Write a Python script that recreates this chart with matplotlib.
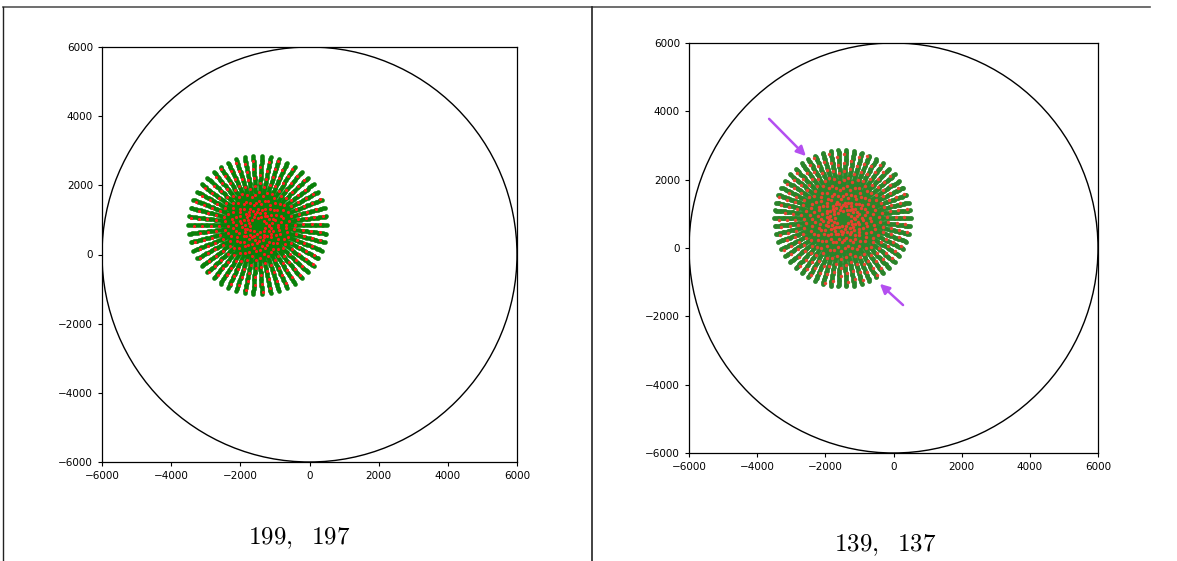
import numpy as np
import matplotlib
matplotlib.use("Agg")
import matplotlib.pyplot as plt
from matplotlib.lines import Line2D
from matplotlib.patches import Circle

# ---------------- data ----------------
captions = [r"$199,\ \ 197$", r"$139,\ \ 137$"]
ticks = [-6000, -4000, -2000, 0, 2000, 4000, 6000]
boundary_radius = 6000
centre_left = (-1500, 850)
centre_right = (-1500, 870)

angles_left = [0, 7.2, 14.4, 21.6, 28.8, 36, 43.2, 50.4, 57.6, 64.8, 72, 79.2, 86.4,
               93.6, 100.8, 108, 115.2, 122.4, 129.6, 136.8, 144, 151.2, 158.4, 165.6,
               172.8, 180, 187.2, 194.4, 201.6, 208.8, 216, 223.2, 230.4, 237.6, 244.8,
               252, 259.2, 266.4, 273.6, 280.8, 288, 295.2, 302.4, 309.6, 316.8, 324,
               331.2, 338.4, 345.6, 352.8]
angles_right = [0, 6.7, 13.3, 20, 26.7, 33.3, 40, 46.7, 53.3, 60, 66.7, 73.3, 80, 86.7,
                93.3, 100, 106.7, 113.3, 120, 126.7, 133.3, 140, 146.7, 153.3, 160,
                166.7, 173.3, 180, 186.7, 193.3, 200, 206.7, 213.3, 220, 226.7, 233.3,
                240, 246.7, 253.3, 260, 266.7, 273.3, 280, 286.7, 293.3, 300, 306.7,
                313.3, 320, 326.7, 333.3, 340, 346.7, 353.3]

green_radii = [0, 50, 100, 150, 200, 250, 300, 350, 400, 450, 500, 550, 600, 650, 700,
               750, 800, 850, 900, 950, 1000, 1050, 1100, 1150, 1200, 1250, 1300, 1350,
               1400, 1450, 1500, 1550, 1600, 1650, 1700, 1750, 1800, 1850, 1900, 1950,
               2000]
red_radii = [330, 580, 820, 1070, 1320, 1560, 1810]
red_shift = [0, 95, -70, 140, 35, -115, 60]   # per-spoke radial shift of red points

# arrows on right panel (tail -> head, data coords)
arrows_right = [((-3650, 3780), (-2570, 2690)), ((280, -1670), (-400, -1050))]


def spokes(ax, centre, angles, gsize, rsize, red_off, green_col, red_col):
    a = np.deg2rad(np.asarray(angles, dtype=float))
    rg = np.asarray(green_radii, dtype=float)
    ax.scatter((centre[0] + np.outer(np.cos(a), rg)).ravel(),
               (centre[1] + np.outer(np.sin(a), rg)).ravel(),
               s=gsize, color=green_col, linewidths=0, zorder=3)
    xs, ys = [], []
    for i, ang in enumerate(a):
        rr = np.clip(np.asarray(red_radii, dtype=float) + red_shift[i % len(red_shift)], 0, 2000)
        ar = ang + np.deg2rad(red_off)
        xs.append(centre[0] + np.cos(ar) * rr)
        ys.append(centre[1] + np.sin(ar) * rr)
    ax.scatter(np.concatenate(xs), np.concatenate(ys), s=rsize, color=red_col,
               linewidths=0, zorder=4)


fig = plt.figure(figsize=(11.77, 5.61), dpi=100)

ax1 = fig.add_axes([102 / 1177, 1 - 462 / 561, 415 / 1177, 415 / 561])
ax2 = fig.add_axes([689 / 1177, 1 - 453 / 561, 409 / 1177, 410 / 561])

spokes(ax1, centre_left, angles_left, 11, 5, 0.8, "#0a800a", "#ff1a1a")
spokes(ax2, centre_right, angles_right, 12, 6, 1.5, "#2a842a", "#e8442e")

for ax in (ax1, ax2):
    ax.add_patch(Circle((0, 0), boundary_radius, fill=False, ec="black", lw=1.0, zorder=2))
    ax.set_xlim(-6000, 6000)
    ax.set_ylim(-6000, 6000)
    ax.set_xticks(ticks)
    ax.set_yticks(ticks)
    ax.tick_params(labelsize=7.5, length=3, width=0.8)
    for sp in ax.spines.values():
        sp.set_linewidth(0.9)

for tail, head in arrows_right:
    ax2.annotate("", xy=head, xytext=tail,
                 arrowprops=dict(arrowstyle="-|>", color="#b44ff0", lw=1.8,
                                 mutation_scale=14, shrinkA=0, shrinkB=0), zorder=5)

plt.rcParams["mathtext.fontset"] = "cm"
fig.text(299 / 1177, 1 - 538 / 561, captions[0], ha="center", va="center", fontsize=18)
fig.text(885 / 1177, 1 - 545 / 561, captions[1], ha="center", va="center", fontsize=18)

# table-like borders
fig.add_artist(Line2D([3 / 1177, 1150 / 1177], [1 - 7 / 561, 1 - 7 / 561],
                      color="#555555", lw=1.2, transform=fig.transFigure))
fig.add_artist(Line2D([3 / 1177, 3 / 1177], [0, 1 - 7 / 561],
                      color="#222222", lw=1.0, transform=fig.transFigure))
fig.add_artist(Line2D([592 / 1177, 592 / 1177], [0, 1 - 7 / 561],
                      color="#222222", lw=1.2, transform=fig.transFigure))

fig.savefig("out.png", dpi=100)
